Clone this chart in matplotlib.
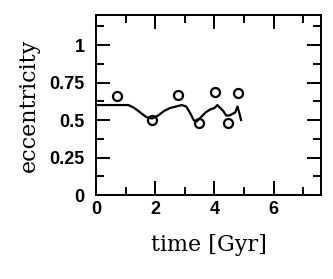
import matplotlib
matplotlib.use("Agg")
import matplotlib.pyplot as plt
from matplotlib.ticker import MultipleLocator

# simulated eccentricity (line)
t_line = [0.0, 0.4, 0.8, 1.1, 1.3, 1.5, 1.7, 1.9, 2.1, 2.3, 2.5, 2.7, 2.9, 3.05,
          3.2, 3.3, 3.4, 3.55, 3.7, 3.85, 4.0, 4.1, 4.2, 4.3, 4.4, 4.5, 4.6, 4.7, 4.78, 4.85, 4.9]
e_line = [0.60, 0.60, 0.60, 0.60, 0.58, 0.55, 0.52, 0.51, 0.53, 0.56, 0.58, 0.59, 0.60, 0.59,
          0.54, 0.50, 0.49, 0.52, 0.55, 0.57, 0.58, 0.60, 0.58, 0.56, 0.53, 0.53, 0.54, 0.55, 0.59, 0.54, 0.50]

# observed points (circles)
t_obs = [0.71, 1.88, 2.78, 3.48, 4.02, 4.45, 4.8]
e_obs = [0.66, 0.50, 0.665, 0.48, 0.69, 0.48, 0.68]

plt.rcParams['font.family'] = ['Liberation Sans', 'DejaVu Sans']
plt.rcParams['font.weight'] = 'bold'

fig = plt.figure(figsize=(3.33, 2.79), dpi=100)
ax = fig.add_axes([0.288, 0.301, 0.676, 0.645])

ax.plot(t_line, e_line, color='black', linewidth=1.6)
ax.plot(t_obs, e_obs, linestyle='none', marker='o', markersize=6.5,
        markerfacecolor='none', markeredgecolor='black', markeredgewidth=1.6)

ax.set_xlim(0, 7.6)
ax.set_ylim(0, 1.2)
ax.xaxis.set_major_locator(MultipleLocator(2))
ax.xaxis.set_minor_locator(MultipleLocator(1))
ax.set_yticks([0, 0.25, 0.5, 0.75, 1])
ax.set_yticklabels(['0', '0.25', '0.5', '0.75', '1'])
ax.yaxis.set_minor_locator(MultipleLocator(0.125))
ax.tick_params(which='both', direction='in', top=True, right=True, width=1.4)
ax.tick_params(which='major', length=10, labelsize=13)
ax.tick_params(which='minor', length=6)
ax.tick_params(axis='x', which='major', pad=4)
ax.tick_params(axis='y', which='major', pad=8)
for s in ax.spines.values():
    s.set_linewidth(1.4)

ax.set_xlabel('time [Gyr]', fontsize=16, family='DejaVu Serif', fontweight='normal', labelpad=12)
ax.set_ylabel('eccentricity', fontsize=16, family='DejaVu Serif', fontweight='normal', labelpad=7)

fig.savefig('out.png', dpi=100)
